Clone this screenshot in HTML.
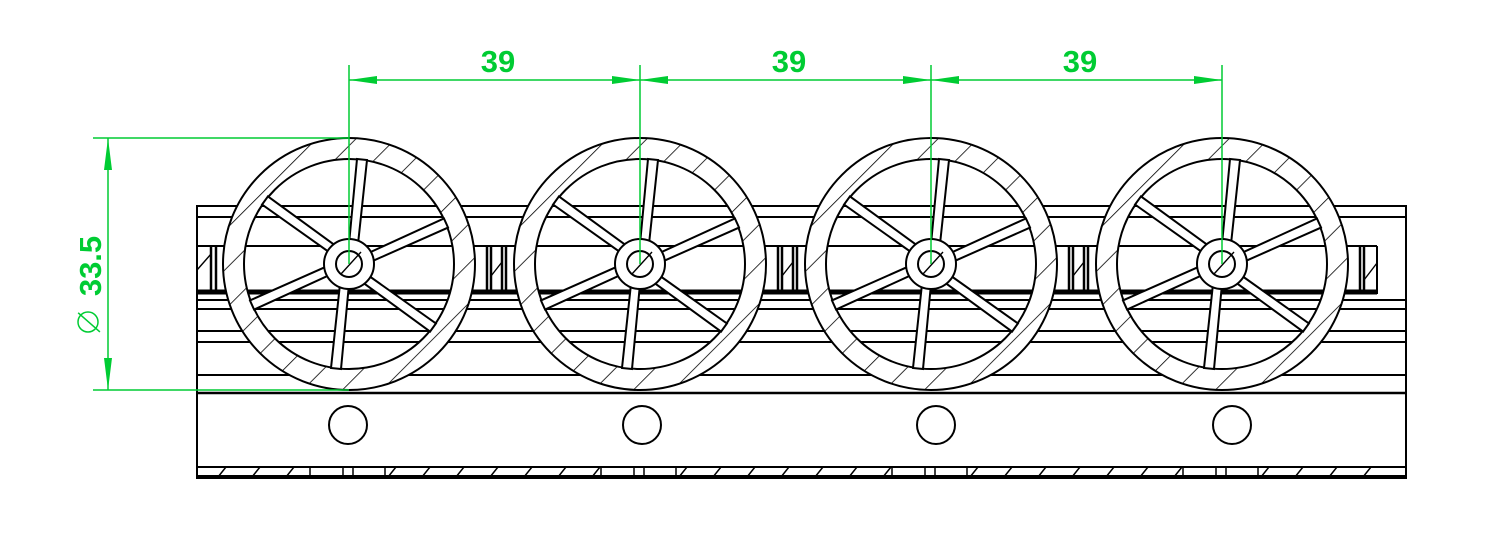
<!DOCTYPE html>
<html><head><meta charset="utf-8"><style>
html,body{margin:0;padding:0;background:#fff;}
svg{display:block;}
</style></head><body>
<svg width="1506" height="557" viewBox="0 0 1506 557" xmlns="http://www.w3.org/2000/svg">
<defs>
<pattern id="h" patternUnits="userSpaceOnUse" width="28" height="28" patternTransform="rotate(45)">
<rect width="28" height="28" fill="#fff"/>
<line x1="0" y1="0" x2="0" y2="28" stroke="#000" stroke-width="1.6"/>
</pattern>
<g id="wheel">
<path d="M-126,0a126,126 0 1,0 252,0a126,126 0 1,0 -252,0Z M-105,0a105,105 0 1,0 210,0a105,105 0 1,0 -210,0Z" fill="url(#h)" fill-rule="evenodd" stroke="#000" stroke-width="2"/>
<g fill="#fff" stroke="#000" stroke-width="2">
<polygon points="0,-20 9,-20 18,-104 8,-105"/>
<polygon points="0,-20 9,-20 18,-104 8,-105" transform="rotate(60)"/>
<polygon points="0,-20 9,-20 18,-104 8,-105" transform="rotate(120)"/>
<polygon points="0,-20 9,-20 18,-104 8,-105" transform="rotate(180)"/>
<polygon points="0,-20 9,-20 18,-104 8,-105" transform="rotate(240)"/>
<polygon points="0,-20 9,-20 18,-104 8,-105" transform="rotate(300)"/>
<circle r="25"/>
<circle r="13"/>
</g>
<line x1="-8" y1="10" x2="12" y2="-12" stroke="#000" stroke-width="1.4"/>
</g>
</defs>

<g stroke="#000" fill="none">
<rect x="197" y="206" width="1209" height="272" stroke-width="2"/>
<line x1="197" y1="217" x2="1406" y2="217" stroke-width="2"/>
<line x1="197" y1="246" x2="1377" y2="246" stroke-width="2"/>
<line x1="197" y1="292" x2="1377" y2="292" stroke-width="5"/>
<line x1="197" y1="300" x2="1406" y2="300" stroke-width="2"/>
<line x1="197" y1="309" x2="1406" y2="309" stroke-width="2"/>
<line x1="197" y1="331" x2="1406" y2="331" stroke-width="2"/>
<line x1="197" y1="342" x2="1406" y2="342" stroke-width="2"/>
<line x1="197" y1="375" x2="1406" y2="375" stroke-width="2"/>
<line x1="197" y1="393" x2="1406" y2="393" stroke-width="2.5"/>
<line x1="197" y1="467" x2="1406" y2="467" stroke-width="2"/>
<line x1="197" y1="477" x2="1406" y2="477" stroke-width="4"/>
<line x1="1377" y1="246" x2="1377" y2="294" stroke-width="2"/>
</g>
<g stroke="#000" stroke-width="2.5">
<line x1="211" y1="246" x2="211" y2="292"/>
<line x1="216" y1="246" x2="216" y2="292"/>
<line x1="487" y1="246" x2="487" y2="292"/><line x1="491" y1="246" x2="491" y2="292"/>
<line x1="502" y1="246" x2="502" y2="292"/><line x1="506" y1="246" x2="506" y2="292"/>
<line x1="778" y1="246" x2="778" y2="292"/><line x1="782" y1="246" x2="782" y2="292"/>
<line x1="793" y1="246" x2="793" y2="292"/><line x1="797" y1="246" x2="797" y2="292"/>
<line x1="1069" y1="246" x2="1069" y2="292"/><line x1="1073" y1="246" x2="1073" y2="292"/>
<line x1="1084" y1="246" x2="1084" y2="292"/><line x1="1088" y1="246" x2="1088" y2="292"/>
<line x1="1360" y1="246" x2="1360" y2="292"/><line x1="1364" y1="246" x2="1364" y2="292"/>
</g>
<g stroke="#000" stroke-width="1.4">
<line x1="197" y1="270" x2="211" y2="254"/>
<line x1="491" y1="276" x2="502" y2="262"/>
<line x1="782" y1="276" x2="793" y2="262"/>
<line x1="1073" y1="276" x2="1084" y2="262"/>
<line x1="1364" y1="280" x2="1377" y2="263"/>
</g>
<g stroke="#000" stroke-width="1.5">
<line x1="310" y1="467" x2="310" y2="477"/><line x1="343" y1="467" x2="343" y2="477"/><line x1="353" y1="467" x2="353" y2="477"/><line x1="385" y1="467" x2="385" y2="477"/>
<line x1="601" y1="467" x2="601" y2="477"/><line x1="634" y1="467" x2="634" y2="477"/><line x1="644" y1="467" x2="644" y2="477"/><line x1="676" y1="467" x2="676" y2="477"/>
<line x1="892" y1="467" x2="892" y2="477"/><line x1="925" y1="467" x2="925" y2="477"/><line x1="935" y1="467" x2="935" y2="477"/><line x1="967" y1="467" x2="967" y2="477"/>
<line x1="1183" y1="467" x2="1183" y2="477"/><line x1="1216" y1="467" x2="1216" y2="477"/><line x1="1226" y1="467" x2="1226" y2="477"/><line x1="1258" y1="467" x2="1258" y2="477"/>
<path d="M218,477l8,-10M252,477l8,-10M286,477l8,-10 M388,477l8,-10M422,477l8,-10M456,477l8,-10M490,477l8,-10M524,477l8,-10M558,477l8,-10M592,477l8,-10 M679,477l8,-10M713,477l8,-10M747,477l8,-10M781,477l8,-10M815,477l8,-10M849,477l8,-10M883,477l8,-10 M970,477l8,-10M1004,477l8,-10M1038,477l8,-10M1072,477l8,-10M1106,477l8,-10M1140,477l8,-10M1174,477l8,-10 M1261,477l8,-10M1295,477l8,-10M1329,477l8,-10M1363,477l8,-10"/>
</g>
<g fill="#fff" stroke="#000" stroke-width="2">
<circle cx="348" cy="425" r="19"/><circle cx="642" cy="425" r="19"/><circle cx="936" cy="425" r="19"/><circle cx="1232" cy="425" r="19"/>
</g>
<use href="#wheel" x="349" y="264"/>
<use href="#wheel" x="640" y="264"/>
<use href="#wheel" x="931" y="264"/>
<use href="#wheel" x="1222" y="264"/>

<g stroke="#00cc33" stroke-width="1.5" fill="#00cc33">
<line x1="349" y1="65" x2="349" y2="264"/>
<line x1="640" y1="65" x2="640" y2="264"/>
<line x1="931" y1="65" x2="931" y2="264"/>
<line x1="1222" y1="65" x2="1222" y2="264"/>
<line x1="349" y1="80" x2="1222" y2="80"/>
<line x1="93" y1="138" x2="349" y2="138"/>
<line x1="93" y1="390" x2="349" y2="390"/>
<line x1="108" y1="138" x2="108" y2="390"/>
<g stroke="none">
<polygon points="349,80 377,76 377,84"/><polygon points="640,80 612,76 612,84"/>
<polygon points="640,80 668,76 668,84"/><polygon points="931,80 903,76 903,84"/>
<polygon points="931,80 959,76 959,84"/><polygon points="1222,80 1194,76 1194,84"/>
<polygon points="108,138 104,170 112,170"/><polygon points="108,390 104,358 112,358"/>
</g>
</g>
<g fill="#00cc33" font-family="Liberation Sans, sans-serif" font-weight="bold" font-size="31" text-anchor="middle">
<text x="498" y="72">39</text>
<text x="789" y="72">39</text>
<text x="1080" y="72">39</text>
<text transform="translate(101,266) rotate(-90)">33.5</text>
</g>
<g stroke="#00cc33" stroke-width="1.5" fill="none">
<circle cx="88" cy="322" r="10"/>
<line x1="79" y1="312" x2="99" y2="333" transform="rotate(-5 88 322)"/>
</g>
</svg>
</body></html>
